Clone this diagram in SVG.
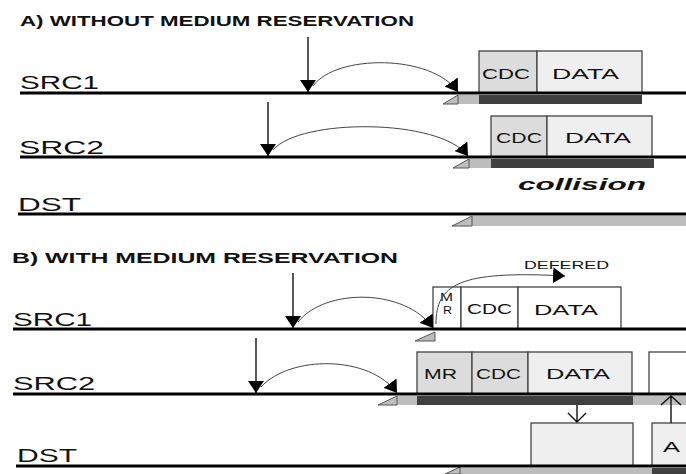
<svg xmlns="http://www.w3.org/2000/svg" width="686" height="474" viewBox="0 0 686 474">
<defs>
<style>
text{font-family:"Liberation Sans",Arial,sans-serif;fill:#111}
.title{font-size:15px;font-weight:bold}
.lane{font-size:17.5px}
.box{font-size:15px}
.bus{stroke:#000;stroke-width:3.2;fill:none}
.dk{fill:#404040}
.lt{fill:#bdbdbd}
.tri{fill:#bdbdbd;stroke:#555;stroke-width:1}
.fr{stroke:#444;stroke-width:1.3}
.f1{fill:#dcdcdc}
.f2{fill:#efefef}
.f0{fill:#fff}
.arr{stroke:#111;stroke-width:1.4;fill:none}
.crv{stroke:#444;stroke-width:1;fill:none}
</style>
<marker id="ah" markerUnits="userSpaceOnUse" markerWidth="14" markerHeight="16" refX="12" refY="8" orient="auto">
<path d="M0,0 L12,8 L0,16 z" fill="#000"/>
</marker>
</defs>
<rect width="686" height="474" fill="#fff"/>

<text class="title" x="20" y="26" textLength="394" lengthAdjust="spacingAndGlyphs">A) WITHOUT MEDIUM RESERVATION</text>
<text class="title" x="12" y="263" textLength="386" lengthAdjust="spacingAndGlyphs">B) WITH MEDIUM RESERVATION</text>

<g id="a-src1">
<text class="lane" x="20" y="89" textLength="79" lengthAdjust="spacingAndGlyphs">SRC1</text>
<rect class="lt" x="458" y="95" width="21" height="9"/>
<rect class="dk" x="479" y="95" width="163" height="9"/>
<path class="tri" d="M443,104 L458,95 L458,104 z"/>
<rect class="fr f1" x="479" y="51" width="58" height="42"/>
<rect class="fr f2" x="537" y="51" width="105" height="42"/>
<text class="box" x="482" y="79" textLength="48" lengthAdjust="spacingAndGlyphs">CDC</text>
<text class="box" x="552" y="79" textLength="67" lengthAdjust="spacingAndGlyphs">DATA</text>
<line class="bus" x1="20" y1="93" x2="686" y2="93"/>
</g>

<g id="a-src2">
<text class="lane" x="19" y="154" textLength="85" lengthAdjust="spacingAndGlyphs">SRC2</text>
<rect class="lt" x="469" y="159" width="22" height="9"/>
<rect class="dk" x="491" y="159" width="163" height="9"/>
<path class="tri" d="M453,168 L469,159 L469,168 z"/>
<rect class="fr f1" x="491" y="116" width="56" height="41"/>
<rect class="fr f2" x="547" y="116" width="105" height="41"/>
<text class="box" x="496" y="143" textLength="46" lengthAdjust="spacingAndGlyphs">CDC</text>
<text class="box" x="565" y="143" textLength="66" lengthAdjust="spacingAndGlyphs">DATA</text>
<line class="bus" x1="20" y1="157" x2="686" y2="157"/>
<text x="518" y="190" style="font-size:17px;font-weight:bold;font-style:italic" textLength="128" lengthAdjust="spacingAndGlyphs">collision</text>
</g>

<g id="a-dst">
<text class="lane" x="18" y="211" textLength="63" lengthAdjust="spacingAndGlyphs">DST</text>
<rect class="lt" x="472" y="216" width="214" height="10"/>
<path class="tri" d="M452,226 L472,216 L472,226 z"/>
<line class="bus" x1="18" y1="214" x2="686" y2="214"/>
</g>

<g id="b-src1">
<text class="lane" x="13" y="326" textLength="79" lengthAdjust="spacingAndGlyphs">SRC1</text>
<path class="tri" d="M415,341 L435,332 L435,341 z"/>
<rect class="fr f0" x="433" y="287" width="28" height="42"/>
<rect class="fr f0" x="461" y="287" width="57" height="42"/>
<rect class="fr f0" x="518" y="287" width="103" height="42"/>
<text style="font-size:11px"><tspan x="440" y="301" textLength="13" lengthAdjust="spacingAndGlyphs">M</tspan><tspan x="443" y="314" textLength="9" lengthAdjust="spacingAndGlyphs">R</tspan></text>
<text class="box" x="467" y="314" textLength="45" lengthAdjust="spacingAndGlyphs">CDC</text>
<text class="box" x="534" y="315" textLength="64" lengthAdjust="spacingAndGlyphs">DATA</text>
<text x="524" y="269" style="font-size:10.5px" textLength="85" lengthAdjust="spacingAndGlyphs">DEFERED</text>
<line class="bus" x1="13" y1="329" x2="686" y2="329"/>
</g>

<g id="b-src2">
<text class="lane" x="13" y="390" textLength="82" lengthAdjust="spacingAndGlyphs">SRC2</text>
<rect class="lt" x="397" y="396" width="20" height="9"/>
<rect class="dk" x="417" y="396" width="216" height="9"/>
<rect class="lt" x="633" y="396" width="53" height="9"/>
<path class="tri" d="M378,405 L397,396 L397,405 z"/>
<rect class="fr f1" x="417" y="352" width="55" height="42"/>
<rect class="fr f1" x="472" y="352" width="56" height="42"/>
<rect class="fr f2" x="528" y="352" width="104" height="42"/>
<rect class="fr f0" x="649" y="352" width="40" height="42"/>
<text class="box" x="424" y="379" textLength="33" lengthAdjust="spacingAndGlyphs">MR</text>
<text class="box" x="476" y="379" textLength="45" lengthAdjust="spacingAndGlyphs">CDC</text>
<text class="box" x="546" y="379" textLength="64" lengthAdjust="spacingAndGlyphs">DATA</text>
<line class="bus" x1="13" y1="394" x2="686" y2="394"/>
</g>

<g id="b-dst">
<text class="lane" x="17" y="462" textLength="60" lengthAdjust="spacingAndGlyphs">DST</text>
<rect class="lt" x="460" y="468" width="192" height="6"/>
<rect class="dk" x="652" y="468" width="34" height="6"/>
<path class="tri" d="M445,474 L460,467 L460,474 z"/>
<rect class="fr f2" x="531" y="423" width="102" height="43"/>
<rect class="fr f2" x="652" y="423" width="40" height="43"/>
<text class="box" x="663" y="452" textLength="17" lengthAdjust="spacingAndGlyphs">A</text>
<line class="bus" x1="16" y1="466" x2="686" y2="466"/>
</g>

<g id="connectors">
<line class="arr" x1="308" y1="37" x2="308" y2="92" marker-end="url(#ah)"/>
<path class="crv" d="M313,86 C336,54 432,54 458,92" marker-end="url(#ah)"/>
<line class="arr" x1="268" y1="102" x2="268" y2="156" marker-end="url(#ah)"/>
<path class="crv" d="M273,150 C300,118 440,118 468,156" marker-end="url(#ah)"/>
<line class="arr" x1="293" y1="273" x2="293" y2="328" marker-end="url(#ah)"/>
<path class="crv" d="M298,322 C325,288 405,288 433,328" marker-end="url(#ah)"/>
<path class="crv" d="M436,324 C436,285 458,270 565,276" marker-end="url(#ah)"/>
<line class="arr" x1="256" y1="338" x2="256" y2="393" marker-end="url(#ah)"/>
<path class="crv" d="M261,387 C290,355 370,355 397,393" marker-end="url(#ah)"/>
<path class="arr" d="M577,405 L577,422 M568,413 L577,422 L586,413"/>
<path class="arr" d="M671,423 L671,397 M661,405 L671,396 L681,405"/>
</g>
</svg>
